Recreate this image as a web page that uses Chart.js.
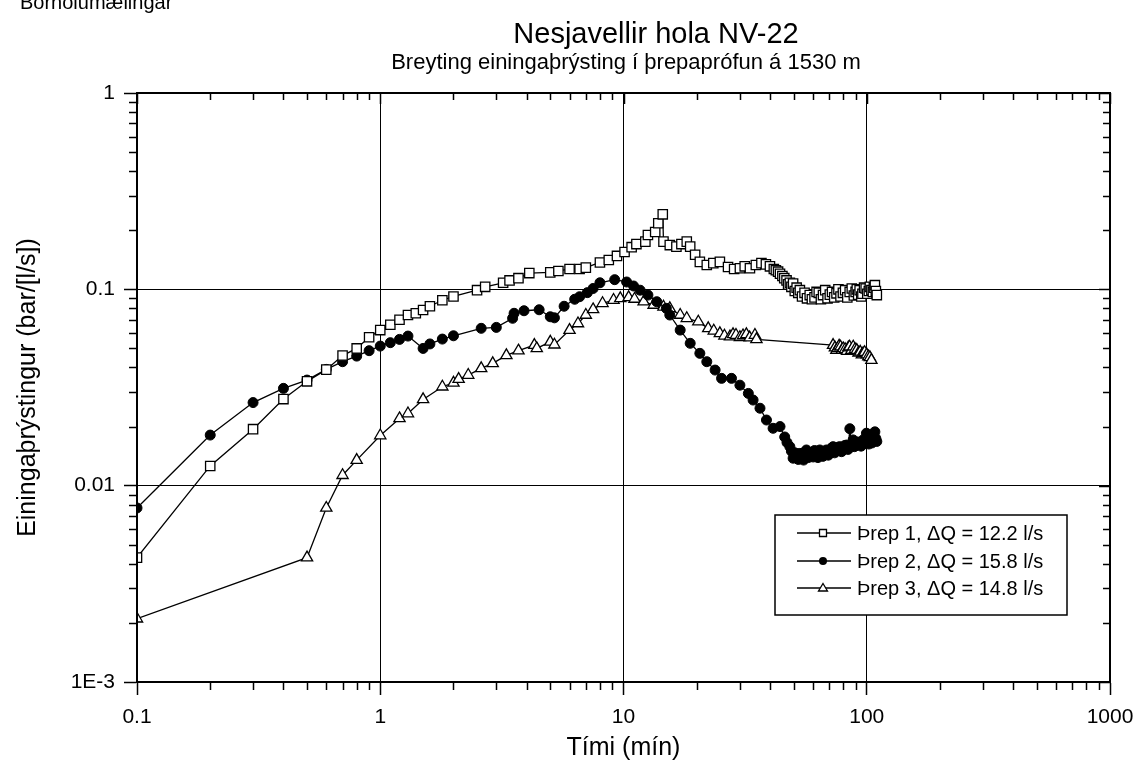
<!DOCTYPE html>
<html>
<head>
<meta charset="utf-8">
<script src="https://cdn.jsdelivr.net/npm/chart.js@4.4.1/dist/chart.umd.min.js"></script>
<style>
    html, body { margin: 0; padding: 0; background: #fff; }
    #wrap { width: 1134px; height: 765px; }
</style>
</head>
<body>
<div id="wrap"><canvas id="nv22Chart" width="1134" height="765"></canvas></div>
<script>
// Þrep 1 (squares)
const time1 = [0.1, 0.2, 0.3, 0.4, 0.5, 0.6, 0.7, 0.8, 0.9, 1.0, 1.1, 1.2, 1.3, 1.4, 1.5, 1.6, 1.8, 2.0, 2.5, 2.7,
    3.2, 3.4, 3.7, 4.1, 5.0, 5.4, 6.0, 6.6, 7.0, 8.0, 8.7, 9.4, 10.1, 10.8, 11.3, 12.3, 12.6, 13.5, 13.9, 14.5,
    14.6, 15.5, 16.5, 17.3, 18.2, 18.8, 19.7, 20.6, 22, 23.4, 24.9, 26.9, 28.5, 30.1, 31.5, 33.1, 35, 36.9, 38.5, 40,
    41.5, 42.3, 43.2, 44, 45, 45.8, 46.8, 47.5, 48.3, 49, 49.8, 50.6, 51.5, 52.3, 53.1, 54.2, 55.5, 56.8, 58.3, 59.5,
    61, 62.2, 63.5, 64.8, 66.1, 67.5, 69, 70.5, 72, 73.5, 75.1, 76.5, 78, 79.8, 81.5, 83.2, 85.1, 86.8, 88.5, 90,
    91, 92.2, 93.5, 95, 96, 97.5, 99, 100.5, 102, 103, 104.5, 106, 107, 108, 109, 110];
const value1 = [0.0043, 0.0126, 0.0194, 0.0276, 0.034, 0.039, 0.046, 0.050, 0.057, 0.062, 0.066, 0.070, 0.074, 0.0755, 0.0785, 0.082, 0.088, 0.092, 0.099, 0.103,
    0.108, 0.111, 0.114, 0.121, 0.122, 0.124, 0.127, 0.127, 0.129, 0.137, 0.141, 0.148, 0.155, 0.164, 0.170, 0.175, 0.189, 0.196, 0.217, 0.241,
    0.175, 0.168, 0.165, 0.170, 0.175, 0.165, 0.150, 0.138, 0.133, 0.136, 0.138, 0.130, 0.127, 0.128, 0.131, 0.128, 0.133, 0.136, 0.134, 0.131,
    0.127, 0.125, 0.123, 0.120, 0.117, 0.114, 0.111, 0.106, 0.108, 0.103, 0.107, 0.098, 0.102, 0.096, 0.099, 0.092, 0.096, 0.090, 0.0935, 0.089,
    0.091, 0.097, 0.096, 0.089, 0.0935, 0.099, 0.090, 0.094, 0.097, 0.091, 0.0954, 0.100, 0.092, 0.096, 0.099, 0.091, 0.097, 0.101, 0.093, 0.097,
    0.100, 0.094, 0.099, 0.092, 0.095, 0.102, 0.101, 0.095, 0.098, 0.103, 0.099, 0.097, 0.102, 0.105, 0.098, 0.0935];

// Þrep 2 (filled circles)
const time2 = [0.1, 0.2, 0.3, 0.4, 0.5, 0.6, 0.7, 0.8, 0.9, 1.0, 1.1, 1.2, 1.3, 1.5, 1.6, 1.8, 2.0, 2.6, 3.0, 3.5,
    3.55, 3.9, 4.5, 5.0, 5.2, 5.7, 6.3, 6.6, 7.1, 7.5, 8.0, 9.2, 10.3, 11.0, 11.7, 12.6, 13.7, 15.0, 15.5, 17.1,
    18.8, 20.6, 22.0, 23.8, 25.3, 27.8, 30.1, 32.6, 34.1, 36.4, 38.7, 41.2, 44, 46, 47, 48.3, 49, 49.8, 50.6, 51.5,
    52.3, 53.1, 54, 55, 55.8, 56.5, 57.5, 58.5, 59.3, 60.2, 61, 62, 63, 64.1, 65, 66, 67.2, 68.3, 69.5, 70.5,
    71.5, 72.7, 73.8, 75, 76.2, 77.5, 78.8, 80, 81.2, 82.5, 83.8, 85.2, 86.5, 87.9, 89, 90, 91.5, 93, 94.8, 96.6,
    98, 99.7, 101, 102, 103, 104, 105, 106, 107, 108, 109, 110];
const value2 = [0.0077, 0.0181, 0.0265, 0.0313, 0.0345, 0.0391, 0.0428, 0.0457, 0.0487, 0.0514, 0.0535, 0.0556, 0.0578, 0.050, 0.0527, 0.0558, 0.058, 0.0633, 0.064, 0.0712,
    0.0755, 0.0778, 0.0787, 0.0725, 0.0716, 0.082, 0.089, 0.0917, 0.0962, 0.101, 0.108, 0.112, 0.109, 0.104, 0.099, 0.0935, 0.0865, 0.080, 0.074, 0.062,
    0.0531, 0.0472, 0.0428, 0.0388, 0.0352, 0.0352, 0.0325, 0.0295, 0.0273, 0.0248, 0.0216, 0.0196, 0.020, 0.0177, 0.0166, 0.0158, 0.0150, 0.0138, 0.0147, 0.0145,
    0.0136, 0.0146, 0.0141, 0.0135, 0.0149, 0.0152, 0.0139, 0.0142, 0.0147, 0.0140, 0.0151, 0.0148, 0.0139, 0.0152, 0.0144, 0.0141, 0.0150, 0.0152, 0.0143, 0.0146,
    0.0155, 0.0158, 0.0147, 0.0150, 0.0157, 0.0158, 0.0149, 0.0152, 0.0160, 0.0161, 0.0153, 0.0195, 0.0162, 0.0171, 0.0158, 0.0160, 0.0167, 0.0166, 0.0159, 0.0171,
    0.0164, 0.0185, 0.0167, 0.0163, 0.0172, 0.0176, 0.0165, 0.0177, 0.0170, 0.0188, 0.0174, 0.0168];

// Þrep 3 (open triangles)
const time3 = [0.1, 0.5, 0.6, 0.7, 0.8, 1.0, 1.2, 1.3, 1.5, 1.8, 2.0, 2.1, 2.3, 2.6, 2.9, 3.3, 3.7, 4.3, 4.4, 5.0,
    5.2, 6.0, 6.5, 7.0, 7.5, 8.2, 9.1, 9.7, 10.5, 11.1, 12.1, 13.3, 14.6, 15.5, 17.1, 18.2, 20.3, 22.3, 23.5, 24.9,
    26, 27.4, 28.2, 29, 30.1, 31, 32, 33, 34.7, 35.2, 72.7, 74, 75, 76, 77, 78, 79, 80, 81.5, 83,
    84, 85, 86.5, 88, 89.5, 91, 92.5, 94, 95.5, 96.6, 98, 100, 101.5, 103, 104.5];
const value3 = [0.0021, 0.0043, 0.0077, 0.0113, 0.0135, 0.0180, 0.022, 0.0233, 0.0275, 0.0319, 0.0334, 0.0349, 0.0366, 0.0396, 0.042, 0.0461, 0.0487, 0.052, 0.050, 0.054,
    0.0522, 0.062, 0.067, 0.074, 0.079, 0.0849, 0.0882, 0.090, 0.091, 0.0893, 0.0865, 0.0832, 0.0815, 0.080, 0.074, 0.0712, 0.0684, 0.0633, 0.0615, 0.0597,
    0.058, 0.0574, 0.0590, 0.0585, 0.057, 0.0582, 0.059, 0.0568, 0.0585, 0.0556, 0.052, 0.0505, 0.049, 0.050, 0.0515, 0.051, 0.049, 0.050, 0.0495, 0.0485,
    0.0505, 0.051, 0.049, 0.051, 0.0495, 0.049, 0.0475, 0.048, 0.0465, 0.0472, 0.0478, 0.0465, 0.0455, 0.045, 0.0436];

const seriesNames = ['Þrep 1, ΔQ = 12.2 l/s', 'Þrep 2, ΔQ = 15.8 l/s', 'Þrep 3, ΔQ = 14.8 l/s'];

const xTickValues = [0.1, 1, 10, 100, 1000];
const xTickLabels = ['0.1', '1', '10', '100', '1000'];
const yTickValues = [0.001, 0.01, 0.1, 1];
const yTickLabels = ['1E-3', '0.01', '0.1', '1'];

const FONT = "'Liberation Sans', Arial, sans-serif";

function toPoints(xs, ys) {
    return xs.map(function (t, i) { return {x: t, y: ys[i]}; });
}

// frame, minor ticks, titles and legend
const decorations = {
    id: 'decorations',
    afterDraw(chart) {
        const ctx = chart.ctx;
        const a = chart.chartArea;
        const x = chart.scales.x;
        const y = chart.scales.y;
        ctx.save();
        ctx.strokeStyle = '#000';
        ctx.lineWidth = 1.5;
        ctx.beginPath();
        // x minor ticks: outward at bottom, inward at top
        [0.1, 1, 10, 100].forEach(function (d) {
            for (let m = 2; m <= 9; m++) {
                let px = Math.round(x.getPixelForValue(d * m)) + 0.5;
                ctx.moveTo(px, a.bottom); ctx.lineTo(px, a.bottom + 8);
                ctx.moveTo(px, a.top); ctx.lineTo(px, a.top + 7);
            }
        });
        xTickValues.forEach(function (v) {
            let px = Math.round(x.getPixelForValue(v)) + 0.5;
            ctx.moveTo(px, a.top); ctx.lineTo(px, a.top + 11);
        });
        // y minor ticks: outward at left, inward at right
        [0.001, 0.01, 0.1].forEach(function (d) {
            for (let m = 2; m <= 9; m++) {
                let py = Math.round(y.getPixelForValue(d * m)) + 0.5;
                ctx.moveTo(a.left - 8, py); ctx.lineTo(a.left, py);
                ctx.moveTo(a.right - 7, py); ctx.lineTo(a.right, py);
            }
        });
        yTickValues.forEach(function (v) {
            let py = Math.round(y.getPixelForValue(v)) + 0.5;
            ctx.moveTo(a.right - 11, py); ctx.lineTo(a.right, py);
        });
        ctx.stroke();

        ctx.lineWidth = 2;
        ctx.strokeRect(a.left, a.top, a.right - a.left, a.bottom - a.top);

        // titles
        ctx.fillStyle = '#000';
        ctx.textBaseline = 'alphabetic';
        ctx.textAlign = 'left';
        ctx.font = '20px ' + FONT;
        ctx.fillText('Borholumælingar', 20, 9);
        ctx.textAlign = 'center';
        ctx.font = '29px ' + FONT;
        ctx.fillText('Nesjavellir hola NV-22', 656, 43);
        ctx.font = '22px ' + FONT;
        ctx.fillText('Breyting einingaþrýsting í þrepaprófun á 1530 m', 626, 69);

        // legend
        const box = {l: 775, t: 515, r: 1067, b: 615};
        ctx.fillStyle = '#fff';
        ctx.fillRect(box.l, box.t, box.r - box.l, box.b - box.t);
        ctx.lineWidth = 1.5;
        ctx.strokeRect(box.l, box.t, box.r - box.l, box.b - box.t);
        const rows = [533, 561, 588];
        ctx.font = '20px ' + FONT;
        ctx.textAlign = 'left';
        ctx.textBaseline = 'middle';
        rows.forEach(function (ry, i) {
            ctx.lineWidth = 1.3;
            ctx.strokeStyle = '#000';
            ctx.beginPath();
            ctx.moveTo(797, ry); ctx.lineTo(851, ry);
            ctx.stroke();
            const cx = 823;
            ctx.beginPath();
            if (i === 0) {
                ctx.rect(cx - 3.5, ry - 3.5, 7, 7);
                ctx.fillStyle = '#fff'; ctx.fill(); ctx.stroke();
            } else if (i === 1) {
                ctx.arc(cx, ry, 4, 0, Math.PI * 2);
                ctx.fillStyle = '#000'; ctx.fill();
            } else {
                ctx.moveTo(cx, ry - 4.5); ctx.lineTo(cx + 4.5, ry + 3); ctx.lineTo(cx - 4.5, ry + 3); ctx.closePath();
                ctx.fillStyle = '#fff'; ctx.fill(); ctx.stroke();
            }
            ctx.fillStyle = '#000';
            ctx.fillText(seriesNames[i], 857, ry + 1);
        });
        ctx.restore();
    }
};

Chart.defaults.color = '#000';
Chart.defaults.font.family = FONT;

let ctx = document.getElementById('nv22Chart').getContext('2d');
let chart = new Chart(ctx, {
    type: 'scatter',
    data: {
        datasets: [{
            label: seriesNames[0],
            data: toPoints(time1, value1),
            showLine: true,
            borderColor: '#000',
            borderWidth: 1.3,
            pointStyle: 'rect',
            pointRadius: 6.6,
            pointBorderWidth: 1.3,
            pointBackgroundColor: '#fff',
            pointBorderColor: '#000'
        }, {
            label: seriesNames[1],
            data: toPoints(time2, value2),
            showLine: true,
            borderColor: '#000',
            borderWidth: 1.3,
            pointStyle: 'circle',
            pointRadius: 5,
            pointBorderWidth: 1,
            pointBackgroundColor: '#000',
            pointBorderColor: '#000'
        }, {
            label: seriesNames[2],
            data: toPoints(time3, value3),
            showLine: true,
            borderColor: '#000',
            borderWidth: 1.3,
            pointStyle: 'triangle',
            pointRadius: 6.5,
            pointBorderWidth: 1.3,
            pointBackgroundColor: '#fff',
            pointBorderColor: '#000'
        }]
    },
    options: {
        responsive: false,
        animation: false,
        layout: {padding: {top: 93, right: 24, left: 0, bottom: 0}},
        plugins: {
            legend: {display: false},
            tooltip: {enabled: false}
        },
        scales: {
            x: {
                type: 'logarithmic',
                position: 'bottom',
                min: 0.1,
                max: 1000,
                afterBuildTicks: function (scale) {
                    scale.ticks = xTickValues.map(function (v) { return {value: v, major: true}; });
                },
                afterFit: function (scale) {
                    scale.height = 83;
                    scale.paddingLeft = 0;
                    scale.paddingRight = 0;
                },
                ticks: {
                    autoSkip: false,
                    maxRotation: 0,
                    padding: 10,
                    font: {size: 21},
                    callback: function (value, index) { return xTickLabels[index]; }
                },
                grid: {color: '#000', lineWidth: 1, tickLength: 13, tickWidth: 1.5},
                border: {display: true, color: '#000', width: 2},
                title: {display: true, text: 'Tími (mín)', font: {size: 25}, padding: {top: 0, bottom: 2}}
            },
            y: {
                type: 'logarithmic',
                position: 'left',
                min: 0.001,
                max: 1,
                afterBuildTicks: function (scale) {
                    scale.ticks = yTickValues.map(function (v) { return {value: v, major: true}; });
                },
                afterFit: function (scale) {
                    scale.width = 137;
                    scale.paddingTop = 0;
                    scale.paddingBottom = 0;
                },
                ticks: {
                    autoSkip: false,
                    padding: 9,
                    font: {size: 21},
                    callback: function (value, index) { return yTickLabels[index]; }
                },
                grid: {color: '#000', lineWidth: 1, tickLength: 13, tickWidth: 1.5},
                border: {display: true, color: '#000', width: 2},
                title: {display: true, text: 'Einingaþrýstingur (bar/[l/s])', font: {size: 25}, padding: {top: 13, bottom: 0}}
            }
        }
    },
    plugins: [decorations]
});
</script>
</body>
</html>
